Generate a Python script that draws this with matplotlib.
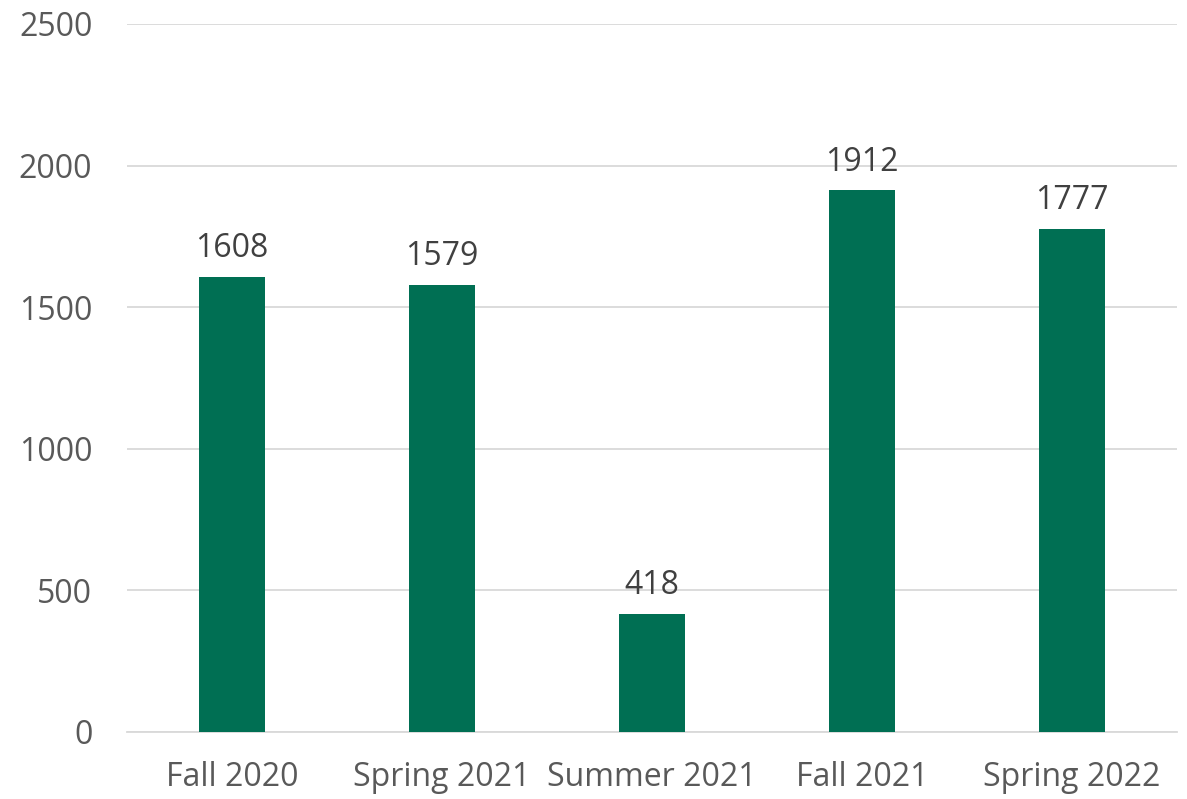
import matplotlib.pyplot as plt

terms = ['Fall 2020', 'Spring 2021', 'Summer 2021', 'Fall 2021', 'Spring 2022']
counts = [1608, 1579, 418, 1912, 1777]
yticks = [0, 500, 1000, 1500, 2000, 2500]

bar_color = '#006F53'
text_color = '#595959'
grid_color = '#D9D9D9'

plt.rcParams['font.family'] = ['Open Sans', 'DejaVu Sans']

fig = plt.figure(figsize=(11.87, 7.99), dpi=100)
ax = fig.add_axes([0.107, 0.0839, 0.8846, 0.8861])

x = range(len(terms))
bars = ax.bar(x, counts, width=0.314, color=bar_color, zorder=3)

for rect, val in zip(bars, counts):
    ax.text(rect.get_x() + rect.get_width() / 2, val + 40, str(val),
            ha='center', va='bottom', fontsize=23, color='#404040')

ax.set_xlim(-0.5, len(terms) - 0.5)
ax.set_ylim(0, 2500)
ax.set_yticks(yticks)
ax.set_xticks(list(x))
ax.set_xticklabels(terms)

ax.yaxis.grid(True, color=grid_color, linewidth=1.3, zorder=0)
ax.set_axisbelow(True)
for side in ['top', 'right', 'left']:
    ax.spines[side].set_visible(False)
ax.spines['bottom'].set_color(grid_color)
ax.spines['bottom'].set_linewidth(1.3)

ax.tick_params(axis='both', length=0, labelsize=23, labelcolor=text_color)
ax.tick_params(axis='y', pad=25)
ax.tick_params(axis='x', pad=21)

fig.savefig('out.png', dpi=100)
